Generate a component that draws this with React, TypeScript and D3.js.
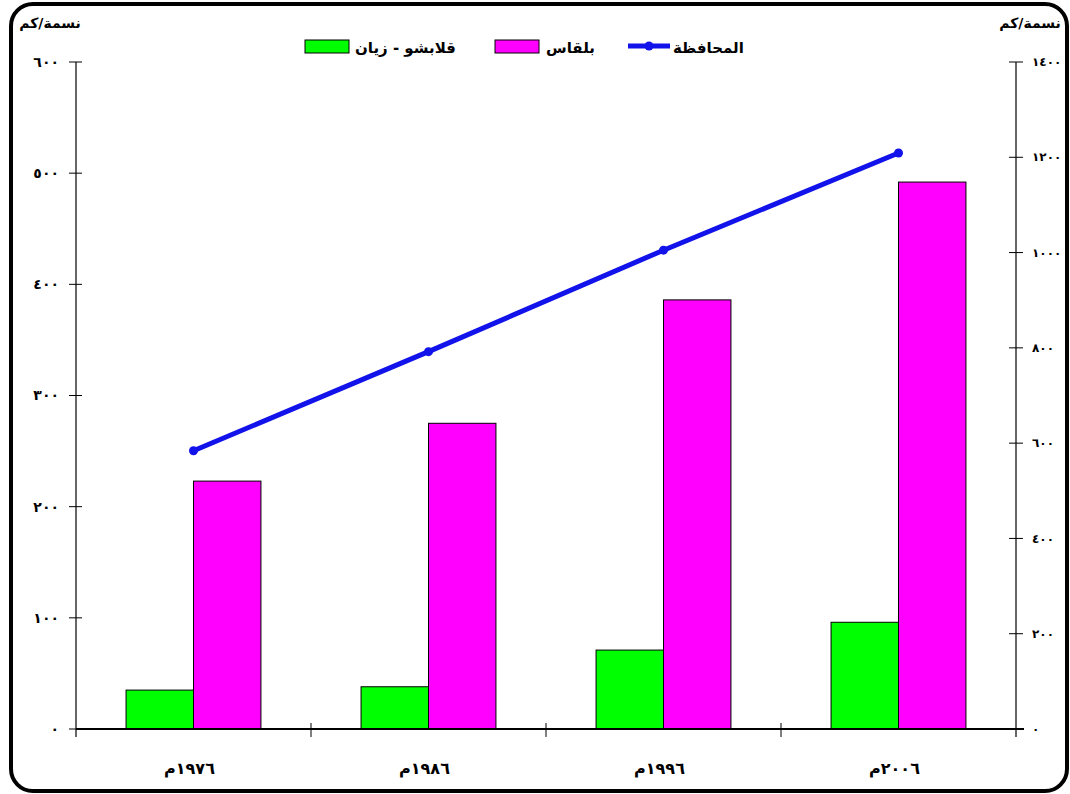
import React from "react";
import * as d3 from "d3";

// Population density (persons/km²)
const years = ["١٩٧٦م", "١٩٨٦م", "١٩٩٦م", "٢٠٠٦م"];
const qalabshoZayan = [35, 38, 71, 96];
const belqas = [223, 275, 386, 492];
const governorate = [584, 792, 1005, 1209];

const leftTicks = [0, 100, 200, 300, 400, 500, 600];
const rightTicks = [0, 200, 400, 600, 800, 1000, 1200, 1400];

const seriesNames = ["قلابشو - زيان", "بلقاس", "المحافظة"];
const unitLabel = "نسمة/كم";

const W = 1070;
const H = 794;
const plot = { left: 76, right: 1016, top: 62, bottom: 729 };

const toArabicDigits = (n: number) =>
  String(n).replace(/[0-9]/g, (d) => "٠١٢٣٤٥٦٧٨٩"[+d]);

const FONT = "'DejaVu Sans', sans-serif";

export default function App() {
  const x = d3
    .scaleBand<string>()
    .domain(years)
    .range([plot.left, plot.right])
    .paddingInner(0)
    .paddingOuter(0);
  const yL = d3.scaleLinear().domain([0, 600]).range([plot.bottom, plot.top]);
  const yR = d3.scaleLinear().domain([0, 1400]).range([plot.bottom, plot.top]);

  const bw = x.bandwidth();
  const barW = bw * 0.287;
  const center = (y: string) => (x(y) as number) + bw / 2;

  const line = d3
    .line<number>()
    .x((_, i) => center(years[i]))
    .y((d) => yR(d));

  const blue = "#1212ea";

  return (
    <svg
      width={W}
      height={H}
      style={{ position: "absolute", left: 0, top: 0, background: "#fff" }}
      fontFamily={FONT}
    >
      <rect x={0} y={0} width={W} height={H} fill="#fff" />
      {/* outer rounded frame */}
      <rect
        x={11}
        y={4}
        width={1056}
        height={787}
        rx={22}
        ry={22}
        fill="none"
        stroke="#000"
        strokeWidth={4}
      />

      {/* bars */}
      {years.map((yr, i) => (
        <g key={yr}>
          <rect
            x={center(yr) - barW}
            y={yL(qalabshoZayan[i])}
            width={barW}
            height={plot.bottom - yL(qalabshoZayan[i])}
            fill="#00ff00"
            stroke="#000"
            strokeWidth={1}
          />
          <rect
            x={center(yr)}
            y={yL(belqas[i])}
            width={barW}
            height={plot.bottom - yL(belqas[i])}
            fill="#ff00ff"
            stroke="#000"
            strokeWidth={1}
          />
        </g>
      ))}

      {/* left axis */}
      <line x1={plot.left} x2={plot.left} y1={plot.top} y2={plot.bottom + 8} stroke="#000" strokeWidth={1.2} />
      {leftTicks.map((t) => (
        <g key={"l" + t}>
          <line x1={plot.left - 7} x2={plot.left + 6} y1={yL(t)} y2={yL(t)} stroke="#000" strokeWidth={1} />
          <text
            x={plot.left - 17}
            y={yL(t)}
            dy="0.35em"
            textAnchor="end"
            fontSize={14}
            fontWeight="bold"
            letterSpacing={3}
          >
            {toArabicDigits(t)}
          </text>
        </g>
      ))}

      {/* right axis */}
      <line x1={plot.right} x2={plot.right} y1={plot.top} y2={plot.bottom + 8} stroke="#000" strokeWidth={1.2} />
      {rightTicks.map((t) => (
        <g key={"r" + t}>
          <line x1={plot.right - 7} x2={plot.right + 7} y1={yR(t)} y2={yR(t)} stroke="#000" strokeWidth={1} />
          <text
            x={plot.right + 16}
            y={yR(t)}
            dy="0.35em"
            textAnchor="start"
            fontSize={12}
            fontWeight="bold"
          >
            {toArabicDigits(t)}
          </text>
        </g>
      ))}

      {/* category axis */}
      <line x1={plot.left} x2={plot.right + 8} y1={plot.bottom} y2={plot.bottom} stroke="#000" strokeWidth={2} />
      {years.slice(1).map((yr) => (
        <line
          key={"c" + yr}
          x1={x(yr) as number}
          x2={x(yr) as number}
          y1={plot.bottom - 6}
          y2={plot.bottom + 8}
          stroke="#000"
          strokeWidth={1}
        />
      ))}
      {years.map((yr) => (
        <text
          key={"t" + yr}
          x={center(yr) - 4}
          y={774}
          textAnchor="middle"
          fontSize={16}
          fontWeight="bold"
          letterSpacing={1}
        >
          {yr}
        </text>
      ))}

      {/* governorate line */}
      <path d={line(governorate) || ""} fill="none" stroke={blue} strokeWidth={5} strokeLinecap="round" />
      {governorate.map((v, i) => (
        <circle key={"p" + i} cx={center(years[i])} cy={yR(v)} r={4.5} fill={blue} />
      ))}

      {/* unit labels */}
      <text x={50} y={28} textAnchor="middle" fontSize={14} fontWeight="bold">
        {unitLabel}
      </text>
      <text x={1030} y={28} textAnchor="middle" fontSize={14} fontWeight="bold">
        {unitLabel}
      </text>

      {/* legend */}
      <g>
        <rect x={305} y={40} width={44} height={13} fill="#00ff00" stroke="#000" strokeWidth={1} />
        <text x={355} y={53} textAnchor="start" fontSize={15} fontWeight="bold">
          {seriesNames[0]}
        </text>
        <rect x={495} y={40} width={44} height={13} fill="#ff00ff" stroke="#000" strokeWidth={1} />
        <text x={546} y={53} textAnchor="start" fontSize={15} fontWeight="bold">
          {seriesNames[1]}
        </text>
        <line x1={628} x2={670} y1={46} y2={46} stroke={blue} strokeWidth={5} />
        <circle cx={649} cy={46} r={4.5} fill={blue} />
        <text x={673} y={53} textAnchor="start" fontSize={15} fontWeight="bold">
          {seriesNames[2]}
        </text>
      </g>
    </svg>
  );
}
